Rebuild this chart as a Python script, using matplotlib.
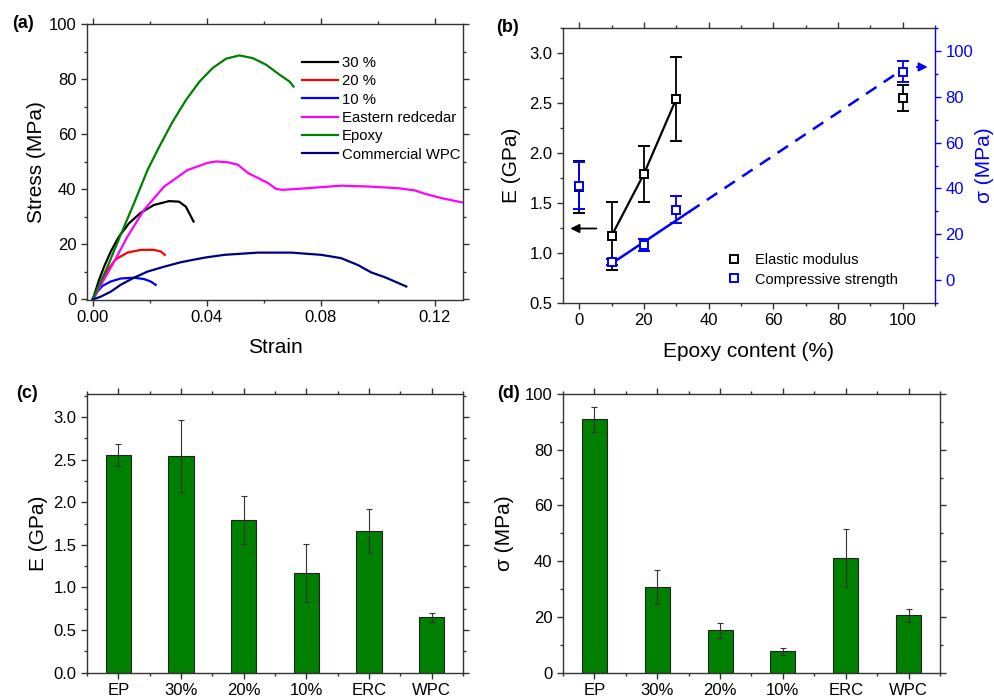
import numpy as np
import matplotlib
matplotlib.use('Agg')
import matplotlib.pyplot as plt
from matplotlib.ticker import MultipleLocator
from matplotlib.lines import Line2D

plt.rcParams['font.family'] = ['Liberation Sans', 'DejaVu Sans']

# ---- (a) stress-strain curves ----
s30_x = [0, 0.0011, 0.0022, 0.004, 0.0063, 0.0092, 0.0128, 0.0169, 0.0215, 0.0268, 0.0303, 0.0327, 0.0342, 0.0354]
s30_y = [0, 3.4, 7.0, 11.9, 17.3, 22.8, 27.7, 31.5, 34.3, 35.7, 35.5, 33.7, 30.7, 28.3]
s20_x = [0, 0.0028, 0.0052, 0.0081, 0.0122, 0.0169, 0.0215, 0.0239, 0.0253]
s20_y = [0, 5.3, 10.7, 14.6, 17.0, 18.0, 18.0, 17.4, 16.2]
s10_x = [0, 0.0016, 0.0034, 0.0063, 0.0098, 0.0145, 0.018, 0.0204, 0.0221]
s10_y = [0, 2.8, 4.9, 6.5, 7.6, 7.9, 7.4, 6.5, 5.3]
erc_x = [0, 0.0052, 0.0075, 0.0122, 0.018, 0.0251, 0.0333, 0.0404, 0.0433, 0.0474, 0.051, 0.0545,
         0.058, 0.0615, 0.0644, 0.0668, 0.0755, 0.0872, 0.0966, 0.1071, 0.113, 0.1165, 0.1224, 0.1298]
erc_y = [0, 9.5, 13.7, 22.8, 32.5, 41.0, 47.0, 49.6, 50.1, 49.8, 48.9, 45.9,
         44.1, 42.3, 40.1, 39.8, 40.4, 41.3, 41.0, 40.4, 39.6, 38.4, 36.8, 35.2]
ep_x = [0, 0.0052, 0.0098, 0.0145, 0.0193, 0.0234, 0.0281, 0.0328, 0.0375, 0.0421, 0.0468,
        0.0515, 0.0562, 0.0609, 0.0656, 0.0691, 0.0705]
ep_y = [0, 11.9, 23.4, 34.9, 47.1, 55.5, 64.6, 72.5, 79.1, 84.0, 87.4,
        88.6, 87.6, 85.2, 81.6, 79.1, 77.3]
wpc_x = [0, 0.0028, 0.0063, 0.0098, 0.0145, 0.0192, 0.0251, 0.0309, 0.0368, 0.04, 0.0463, 0.058,
         0.0697, 0.0802, 0.0872, 0.0931, 0.0978, 0.1025, 0.1101]
wpc_y = [0, 1.0, 2.8, 5.3, 7.9, 10.1, 11.9, 13.5, 14.7, 15.3, 16.2, 17.0,
         17.0, 16.2, 15.0, 12.5, 9.8, 8.1, 4.7]

# ---- (b)(c)(d) properties ----
materials = ['EP', '30%', '20%', '10%', 'ERC', 'WPC']
epoxy_pct = [100, 30, 20, 10, 0]          # epoxy content of the first five materials
E_vals = [2.55, 2.54, 1.79, 1.17, 1.66, 0.65]
E_errs = [0.13, 0.42, 0.28, 0.34, 0.26, 0.05]
sig_vals = [91.0, 30.8, 15.3, 7.7, 41.2, 20.6]
sig_errs = [4.5, 6.0, 2.7, 1.3, 10.3, 2.3]
trend_x = [10, 34, 98]
trend_y = [7.2, 29.8, 90.0]

W, H = 995, 698
fig = plt.figure(figsize=(W / 100, H / 100), dpi=100)


def box(l, t, r, b):
    return [l / W, 1 - b / H, (r - l) / W, (b - t) / H]


def style(ax):
    for s in ax.spines.values():
        s.set_linewidth(1.0)
        s.set_color('#333333')
    ax.tick_params(which='both', direction='out', top=True, right=True,
                   labelsize=12, color='#333333', width=1)
    ax.tick_params(which='major', length=4)
    ax.tick_params(which='minor', length=2.5)


# (a)
axa = fig.add_axes(box(87, 24, 463, 300))
style(axa)
axa.plot(s30_x, s30_y, color='black', lw=1.6, label='30 %')
axa.plot(s20_x, s20_y, color='red', lw=1.6, label='20 %')
axa.plot(s10_x, s10_y, color='blue', lw=1.6, label='10 %')
axa.plot(erc_x, erc_y, color='magenta', lw=1.6, label='Eastern redcedar')
axa.plot(ep_x, ep_y, color='green', lw=1.6, label='Epoxy')
axa.plot(wpc_x, wpc_y, color='navy', lw=1.6, label='Commercial WPC')
axa.set_xlim(-0.002, 0.13)
axa.set_ylim(-0.2, 100)
axa.xaxis.set_major_locator(MultipleLocator(0.04))
axa.xaxis.set_minor_locator(MultipleLocator(0.02))
axa.yaxis.set_major_locator(MultipleLocator(20))
axa.yaxis.set_minor_locator(MultipleLocator(10))
axa.xaxis.set_major_formatter(lambda v, p: '%.2f' % v)
axa.set_xlabel('Strain', fontsize=15, labelpad=9)
axa.set_ylabel('Stress (MPa)', fontsize=15, labelpad=2)
axa.legend(loc='upper left', bbox_to_anchor=(0.572, 0.884), frameon=False, fontsize=10.7,
           handlelength=2.4, handletextpad=0.3, labelspacing=0.29, borderpad=0, borderaxespad=0)

# (b)
axb = fig.add_axes(box(563, 28, 935, 303))
style(axb)
axb.tick_params(right=False)
axb.spines['right'].set_visible(False)
ax2 = axb.twinx()
for s in ax2.spines.values():
    s.set_visible(False)
ax2.spines['right'].set_visible(True)
ax2.spines['right'].set_color('blue')
ax2.spines['right'].set_linewidth(1.0)
ax2.tick_params(which='both', direction='out', colors='blue', labelsize=12, width=1)
ax2.tick_params(which='major', length=4)
ax2.tick_params(which='minor', length=2.5)

axb.errorbar(epoxy_pct, E_vals[:5], yerr=E_errs[:5], fmt='s', ms=6, mfc='white', mec='black',
             mew=1.4, ecolor='black', elinewidth=1.3, capsize=4, capthick=1.3, zorder=3)
axb.plot(epoxy_pct[1:4], E_vals[1:4], color='black', lw=1.6, zorder=2)
ax2.plot(trend_x[:2], trend_y[:2], color='blue', lw=1.8)
ax2.plot(trend_x[1:], trend_y[1:], color='blue', lw=1.8, linestyle=(0, (5, 3.5)))
ax2.errorbar(epoxy_pct, sig_vals[:5], yerr=sig_errs[:5], fmt='s', ms=6, mfc='white', mec='blue',
             mew=1.4, ecolor='blue', elinewidth=1.3, capsize=4, capthick=1.3, zorder=3)
axb.annotate('', xy=(-3.6, 1.245), xytext=(6.2, 1.245),
             arrowprops=dict(arrowstyle='-|>', color='black', lw=1.3, mutation_scale=13))
ax2.annotate('', xy=(108.6, 93), xytext=(103.5, 93),
             arrowprops=dict(arrowstyle='-|>', color='blue', lw=1.3, mutation_scale=13),
             annotation_clip=False)
axb.set_xlim(-5, 110)
axb.set_ylim(0.5, 3.25)
ax2.set_ylim(-10, 110)
axb.xaxis.set_major_locator(MultipleLocator(20))
axb.xaxis.set_minor_locator(MultipleLocator(10))
axb.yaxis.set_major_locator(MultipleLocator(0.5))
axb.yaxis.set_minor_locator(MultipleLocator(0.25))
ax2.yaxis.set_major_locator(MultipleLocator(20))
ax2.yaxis.set_minor_locator(MultipleLocator(10))
axb.yaxis.set_major_formatter(lambda v, p: '%.1f' % v)
axb.set_xlabel('Epoxy content (%)', fontsize=15, labelpad=10)
axb.set_ylabel('E (GPa)', fontsize=15, labelpad=6)
ax2.set_ylabel('σ (MPa)', fontsize=15, color='blue', labelpad=1)
hb = [Line2D([], [], ls='none', marker='s', ms=6, mfc='white', mec='black', mew=1.4),
      Line2D([], [], ls='none', marker='s', ms=6, mfc='white', mec='blue', mew=1.4)]
axb.legend(hb, ['Elastic modulus', 'Compressive strength'], loc='center left',
           bbox_to_anchor=(0.435, 0.12), frameon=False, fontsize=10.5, handlelength=1.2,
           handletextpad=0.9, labelspacing=0.35, borderpad=0, borderaxespad=0)

# (c)
pos = np.arange(1, len(materials) + 1)
axc = fig.add_axes(box(87, 394, 463, 672.7))
style(axc)
axc.bar(pos, E_vals, width=0.4, color='#008000', edgecolor='#222222', linewidth=0.8,
        yerr=E_errs, ecolor='#333333', error_kw=dict(elinewidth=0.8, capsize=2, capthick=0.8))
axc.set_xlim(0.5, 6.5)
axc.set_ylim(0, 3.27)
axc.set_xticks(pos)
axc.set_xticklabels(materials)
axc.xaxis.set_minor_locator(MultipleLocator(0.5))
axc.yaxis.set_major_locator(MultipleLocator(0.5))
axc.yaxis.set_minor_locator(MultipleLocator(0.25))
axc.yaxis.set_major_formatter(lambda v, p: '%.1f' % v)
axc.set_ylabel('E (GPa)', fontsize=15, labelpad=4)

# (d)
axd = fig.add_axes(box(563, 394, 940, 672.7))
style(axd)
axd.bar(pos, sig_vals, width=0.4, color='#008000', edgecolor='#222222', linewidth=0.8,
        yerr=sig_errs, ecolor='#333333', error_kw=dict(elinewidth=0.8, capsize=2, capthick=0.8))
axd.set_xlim(0.5, 6.5)
axd.set_ylim(0, 100)
axd.set_xticks(pos)
axd.set_xticklabels(materials)
axd.xaxis.set_minor_locator(MultipleLocator(0.5))
axd.yaxis.set_major_locator(MultipleLocator(20))
axd.yaxis.set_minor_locator(MultipleLocator(10))
axd.set_ylabel('σ (MPa)', fontsize=15, labelpad=8)

for lab, x, y in [('(a)', 12, 24), ('(b)', 496, 28), ('(c)', 16, 394), ('(d)', 497, 394)]:
    fig.text(x / W, 1 - y / H, lab, fontsize=13, fontweight='bold', va='center', ha='left')

fig.savefig('out.png', dpi=100)
